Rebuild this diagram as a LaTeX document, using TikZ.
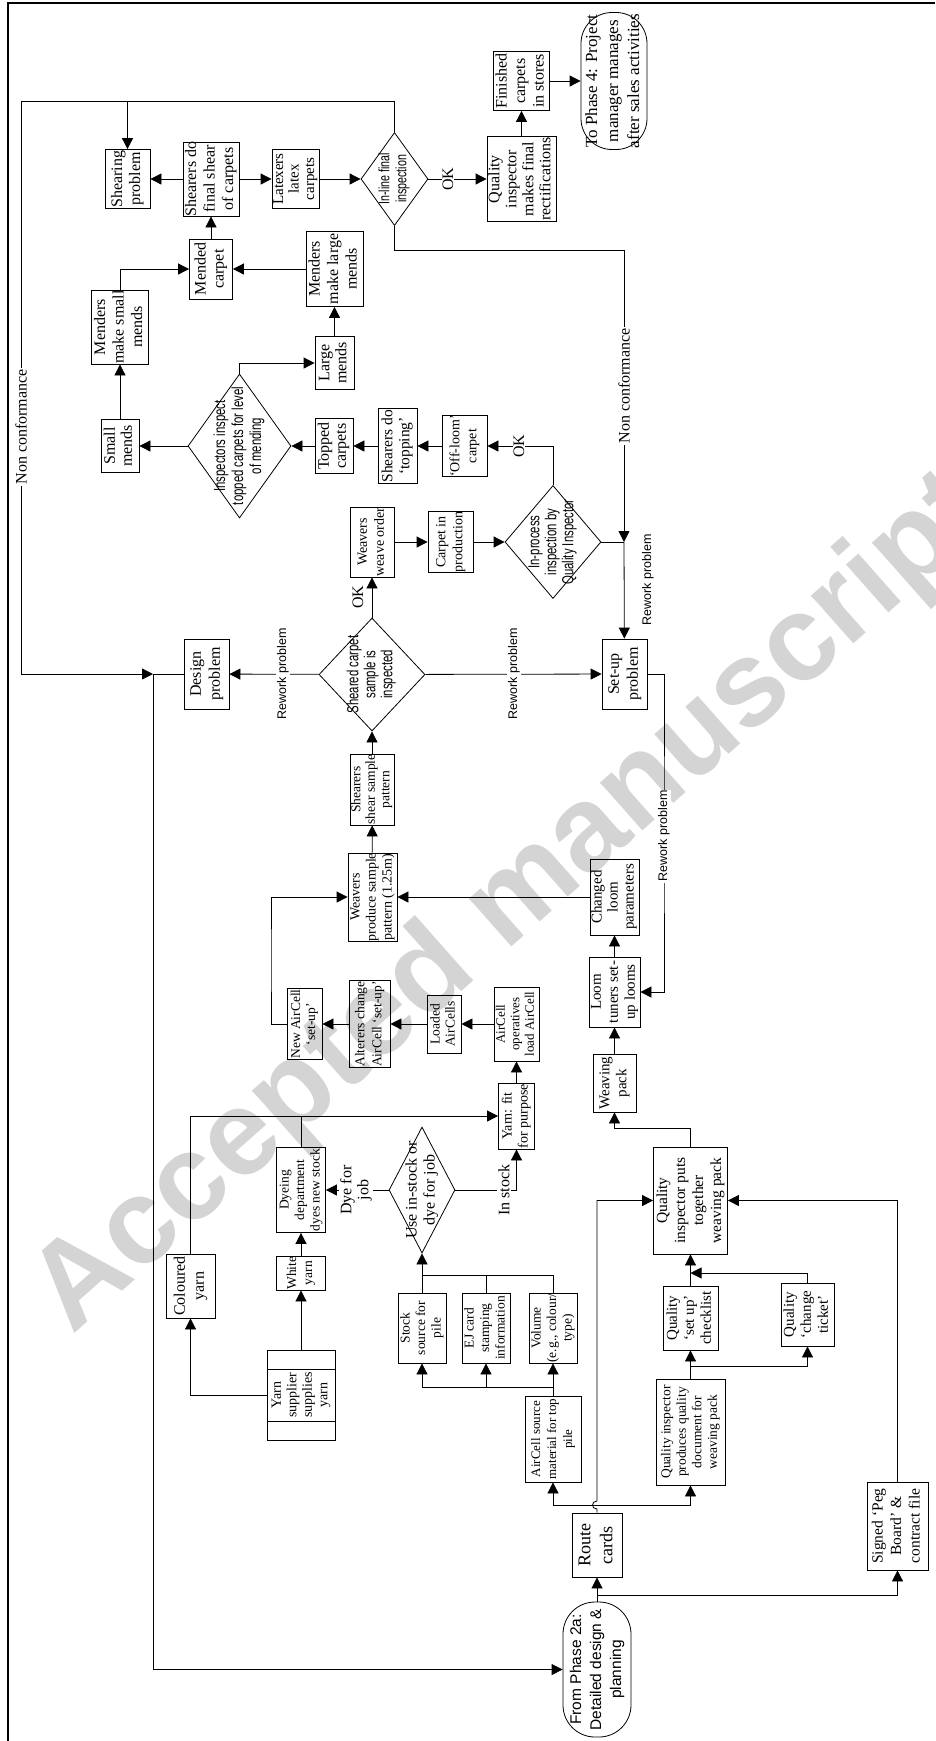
\documentclass[tikz,border=0pt]{standalone}
\usepackage{fontspec}
\setmainfont{Liberation Serif}
\newfontfamily\sansf{Liberation Sans}
\newfontfamily\narrowf[FakeStretch=0.71]{Liberation Sans}
\usetikzlibrary{arrows.meta,shapes.geometric,calc}
\newcommand\fs[2]{\fontsize{#1}{#2}\selectfont}
\newcommand\zb[1]{\makebox[0pt]{\raisebox{\dimexpr-0.5\height+0.5\depth\relax}[0pt][0pt]{\begin{tabular}{@{}c@{}}#1\end{tabular}}}}
\begin{document}
\begin{tikzpicture}[x=1pt,y=-1pt,
  box/.style={draw, rectangle, rotate=90, inner sep=0pt, line width=0.8pt},
  dia/.style={draw, diamond, rotate=90, inner sep=0pt, line width=0.8pt},
  term/.style={draw, rectangle, rounded corners=31pt, rotate=90, inner sep=0pt, line width=0.8pt},
  arr/.style={line width=0.8pt, -{Triangle[length=11pt,width=11pt]}},
  ln/.style={line width=0.8pt},
  lbl/.style={rotate=90, fill=white, inner sep=1pt, font=\fs{16}{17}},
  rw/.style={font=\sansf\fs{12.5}{14}},
]
\useasboundingbox (0,0) rectangle (935,1741);
% watermark
\node[rotate=41.5, anchor=base west, text=black!17, font=\sansf\bfseries\fs{121}{121}, inner sep=0pt] (wm) at (72,1336) {Accepted manuscript};
% frame
\draw[line width=2.5pt] (8,1741) -- (8,3) -- (935,3);

% nodes
\node[box, minimum width=59pt, minimum height=45pt, font=\fs{16}{18}] (shprob) at (127.5,179) {\zb{Shearing\\problem}};
\node[box, minimum width=74pt, minimum height=56pt, font=\fs{16}{18.5}] (shfinal) at (211,179) {\zb{Shearers do\\final shear\\of carpets}};
\node[box, minimum width=59pt, minimum height=47pt, font=\fs{15}{15.5}] (latex) at (295.5,179) {\zb{Latexers\\latex\\carpets}};
\node[dia, minimum width=93pt, minimum height=67pt, font=\narrowf\fs{15}{17}] (inline) at (394.5,179) {\zb{In-line final\\inspection}};
\node[box, minimum width=85pt, minimum height=69pt, font=\fs{16}{17}] (qifinal) at (521.5,179) {\zb{Quality\\inspector\\makes final\\rectifications}};
\node[box, minimum width=59pt, minimum height=56pt, font=\fs{16}{18.5}] (finished) at (521.5,81) {\zb{Finished\\carpets\\in stores}};
\node[term, minimum width=137pt, minimum height=66pt, font=\fs{17}{21}] (phase4) at (614,81) {\zb{To Phase 4: Project\\manager manages\\after sales activities}};
\node[box, minimum width=60pt, minimum height=43pt, font=\fs{16}{18}] (mended) at (211,269) {\zb{Mended\\carpet}};
\node[box, minimum width=74pt, minimum height=57pt, font=\fs{16}{18.5}] (msmall) at (120,327) {\zb{Menders\\make small\\mends}};
\node[box, minimum width=75pt, minimum height=57pt, font=\fs{16}{18.5}] (mlarge) at (334.5,269) {\zb{Menders\\make large\\mends}};
\node[box, minimum width=53pt, minimum height=39pt, font=\fs{16}{17}] (large) at (334.5,363) {\zb{Large\\mends}};
\node[box, minimum width=53pt, minimum height=38pt, font=\fs{16}{17}] (small) at (120,446) {\zb{Small\\mends}};
\node[dia, minimum width=144pt, minimum height=103pt, font=\narrowf\fs{16}{18}] (inspd) at (239.5,446) {\zb{Inspectors inspect\\topped carpets for level\\of mending}};
\node[box, minimum width=55pt, minimum height=38pt, font=\fs{16}{17}] (topped) at (334,446) {\zb{Topped\\carpets}};
\node[box, minimum width=75pt, minimum height=39pt, font=\fs{15.5}{17}] (shtop) at (397.5,446) {\zb{Shearers do\\‘topping’}};
\node[box, minimum width=61pt, minimum height=45pt, font=\fs{14}{17}] (offloom) at (464.5,446) {\zb{‘Off-loom’\\carpet}};
\node[dia, minimum width=113pt, minimum height=96pt, font=\narrowf\fs{16}{17}] (inproc) at (553,542) {\zb{In-process\\inspection by\\Quality Inspector}};
\node[box, minimum width=61pt, minimum height=45pt, font=\fs{14}{17}] (cinprod) at (450.5,542) {\zb{Carpet in\\production}};
\node[box, minimum width=70pt, minimum height=44pt, font=\fs{14}{17}] (wweave) at (372,542) {\zb{Weavers\\weave order}};
\node[dia, minimum width=113pt, minimum height=106pt, font=\narrowf\fs{16}{17}] (sheared) at (372,674.5) {\zb{Sheared carpet\\sample is\\inspected}};
\node[box, minimum width=70pt, minimum height=45pt, font=\fs{16}{19}] (design) at (206.5,674) {\zb{Design\\problem}};
\node[box, minimum width=70pt, minimum height=45pt, font=\fs{16}{19}] (setup) at (624.5,674) {\zb{Set-up\\problem}};
\node[box, minimum width=71pt, minimum height=44pt, font=\fs{13.5}{14.5}] (shsample) at (372,789.5) {\zb{Shearers\\shear sample\\pattern}};
\node[box, minimum width=88pt, minimum height=49pt, font=\fs{14}{16}] (wprod) at (372.5,897) {\zb{Weavers\\produce sample\\pattern (1.25m)}};
\node[box, minimum width=76pt, minimum height=49pt, font=\fs{15}{16}] (changed) at (614.5,897) {\zb{Changed\\loom\\parameters}};
\node[box, minimum width=70pt, minimum height=51pt, font=\fs{15}{17}] (tuners) at (614.5,992) {\zb{Loom\\tuners set-\\up looms}};
\node[box, minimum width=58pt, minimum height=43pt, font=\fs{15}{17}] (wpack) at (614.5,1083) {\zb{Weaving\\pack}};
\node[box, minimum width=107pt, minimum height=74pt, font=\fs{15.5}{18}] (qiput) at (690.5,1200.5) {\zb{Quality\\inspector puts\\together\\weaving pack}};
\node[box, minimum width=87pt, minimum height=41pt, font=\fs{13.5}{17}] (alter) at (369.5,1024) {\zb{Alterers change\\AirCell ‘set-up’}};
\node[box, minimum width=71pt, minimum height=35pt, font=\fs{13.5}{15}] (newac) at (304.5,1024) {\zb{New AirCell\\‘set-up’}};
\node[box, minimum width=58pt, minimum height=34pt, font=\fs{13.5}{15}] (loaded) at (444,1024) {\zb{Loaded\\AirCells}};
\node[box, minimum width=74pt, minimum height=45pt, font=\fs{13}{14.5}] (acop) at (516.5,1024) {\zb{AirCell\\operatives\\load AirCell}};
\node[box, minimum width=66pt, minimum height=36pt, font=\fs{14}{16}] (yfit) at (516.5,1116) {\zb{Yarn: fit\\for purpose}};
\node[box, minimum width=64pt, minimum height=49pt, font=\fs{16}{19}] (coloured) at (190.5,1286) {\zb{Coloured\\yarn}};
\node[box, minimum width=85pt, minimum height=49pt, font=\fs{13.5}{15.5}] (dyeing) at (301,1190) {\zb{Dyeing\\department\\dyes new stock}};
\node[box, minimum width=34pt, minimum height=49pt, font=\fs{13.5}{16}] (white) at (301,1273) {\zb{White\\yarn}};
\node[box, minimum width=90pt, minimum height=68pt, font=\fs{14}{15.5}] (supplier) at (301,1395) {\zb{Yarn\\supplier\\supplies\\yarn}};
\node[dia, minimum width=126pt, minimum height=66pt, font=\fs{16}{18}] (usestock) at (422,1190) {\zb{Use in-stock or\\dye for job}};
\node[box, minimum width=70pt, minimum height=48pt, font=\fs{13.5}{15.5}] (stocksrc) at (422,1328) {\zb{Stock\\source for\\pile}};
\node[box, minimum width=70pt, minimum height=48pt, font=\fs{13.5}{15.5}] (ejcard) at (486,1328) {\zb{EJ card\\stamping\\information}};
\node[box, minimum width=70pt, minimum height=48pt, font=\fs{13.5}{15.5}] (volume) at (553,1328) {\zb{Volume\\(e.g., colour/\\type)}};
\node[box, minimum width=86pt, minimum height=56pt, font=\fs{13}{16}] (acsrc) at (553,1439) {\zb{AirCell source\\material for top\\pile}};
\node[box, minimum width=64pt, minimum height=50pt, font=\fs{18}{22}] (route) at (597,1545) {\zb{Route\\cards}};
\node[term, minimum width=135pt, minimum height=68pt, rounded corners=32pt, font=\sansf\fs{15.5}{20}] (phase2a) at (597,1669.5) {\zb{From Phase 2a:\\Detailed design \&\\planning}};
\node[box, minimum width=88pt, minimum height=61pt, font=\fs{15.5}{18.5}] (peg) at (897.5,1526) {\zb{Signed ‘Peg\\Board’ \&\\contract file}};
\node[box, minimum width=106pt, minimum height=69pt, font=\fs{13.5}{15.5}] (qiprod) at (690.5,1432) {\zb{Quality inspector\\produces quality\\document for\\weaving pack}};
\node[box, minimum width=64pt, minimum height=55pt, font=\fs{15}{17}] (qsetup) at (690.5,1318) {\zb{Quality\\‘set up’\\checklist}};
\node[box, minimum width=63pt, minimum height=53pt, font=\fs{15}{17}] (qchange) at (807.5,1314.5) {\zb{Quality\\‘change\\ticket’}};

% compartments of supplier box
\draw[ln] ($(supplier.center)+(-34,-26)$) -- ($(supplier.center)+(34,-26)$);
\draw[ln] ($(supplier.center)+(-34,26)$) -- ($(supplier.center)+(34,26)$);

% coordinates
\coordinate (tB) at (21,101);
\coordinate (j1) at (153,674);
\coordinate (nc2) at (624,250);
\coordinate (j2) at (624,542);
\coordinate (rw1) at (664,836);
\coordinate (c1) at (614.5,1128);
\coordinate (c2) at (271,960);
\coordinate (c3) at (422,1275);
\coordinate (c4) at (553,1387);
\coordinate (c5) at (597,1595);
\coordinate (c6) at (597,1505);
\coordinate (c7) at (690.5,1366);
\coordinate (c8) at (690.5,1273);

% connectors
\draw[arr] (inline) |- (tB) |- (j1);
\draw[arr] (shprob |- tB) -- (shprob);
\draw[arr] (shfinal) -- (shprob);
\draw[arr] (shfinal) -- (latex);
\draw[arr] (latex) -- (inline);
\draw[arr] (inline) -- (qifinal);
\draw[arr] (qifinal) -- (finished);
\draw[arr] (finished) -- (phase4);
\draw[arr] (inline) |- (nc2) -- (j2);
\draw[ln] (inproc) -- (j2);
\draw[arr] (j2) -- (setup);
\draw[arr] (sheared) -- (setup);
\draw[arr] (sheared) -- (design);
\draw[ln] (design) -- (j1);
\draw[arr] (j1) |- (phase2a);
\draw[arr] (setup) -| (rw1) |- (tuners);
\draw[arr] (inproc) |- (offloom);
\draw[arr] (offloom) -- (shtop);
\draw[arr] (shtop) -- (topped);
\draw[arr] (topped) -- (inspd);
\draw[arr] (inspd) -- (small);
\draw[arr] (inspd) |- (large);
\draw[arr] (small) -- (msmall);
\draw[arr] (large) -- (mlarge);
\draw[arr] (msmall) |- (mended);
\draw[arr] (mlarge) -- (mended);
\draw[arr] (mended) -- (shfinal);
\draw[arr] (wweave) -- (cinprod);
\draw[arr] (cinprod) -- (inproc);
\draw[arr] (sheared) -- (wweave);
\draw[arr] (shsample) -- (sheared);
\draw[arr] (wprod) -- (shsample);
\draw[arr] (changed) -- (wprod);
\draw[arr] (tuners) -- (changed);
\draw[arr] (wpack) -- (tuners);
\draw[arr] (qiput) |- (c1) -- (wpack);
\draw[arr] (alter) -- (newac);
\draw[arr] (loaded) -- (alter);
\draw[arr] (acop) -- (loaded);
\draw[arr] (newac) -| (c2) |- (wprod);
\draw[arr] (yfit) -- (acop);
\draw[arr] (coloured) |- (yfit);
\draw[ln] (dyeing) -- (dyeing |- yfit);
\draw[arr] (white) -- (dyeing);
\draw[arr] (supplier) -- (white);
\draw[arr] (supplier) -| (coloured);
\draw[arr] (usestock) -- (dyeing);
\draw[arr] (usestock) -| (yfit);
\draw[arr] (stocksrc) -- (usestock);
\draw[ln] (volume) |- (c3);
\draw[ln] (ejcard) -- (ejcard |- c3);
\draw[arr] (acsrc) -- (volume);
\draw[arr] (c4) -| (stocksrc);
\draw[arr] (ejcard |- c4) -- (ejcard);
\draw[arr] (phase2a) -- (route);
\draw[arr] (c5) -| (peg);
\draw[arr] (peg) |- (qiput);
\draw[arr] (c6) -| (acsrc);
\draw[arr] (c6) -| (qiprod);
\draw[arr] (route) -- (597,1509) .. controls (591,1509) and (591,1501) .. (597,1501) |- (qiput);
\draw[arr] (qiprod) -- (qsetup);
\draw[arr] (qsetup) -- (qiput);
\draw[arr] (c7) -| (qchange);
\draw[arr] (qchange) |- (c8);

% labels
\node[lbl] (nc1lbl) at (21,427) {Non conformance};
\node[lbl] (nc2lbl) at (624,386) {Non conformance};
\node[lbl] (ok1) at (448,179) {OK};
\node[lbl] (ok2) at (519,446) {OK};
\node[rotate=90, font=\fs{16}{17}] (ok3) at (358,597) {OK};
\node[lbl, rw] (rw1l) at (283,674) {Rework problem};
\node[lbl, rw] (rw2l) at (514,674) {Rework problem};
\node[rotate=90, rw] (rw3l) at (648,580) {Rework problem};
\node[lbl, rw] (rw4l) at (664,836) {Rework problem};
\node[lbl, align=center] (dyelbl) at (356,1190) {Dye for\\job};
\node[lbl] (instock) at (504,1190) {In stock};
\end{tikzpicture}
\end{document}
